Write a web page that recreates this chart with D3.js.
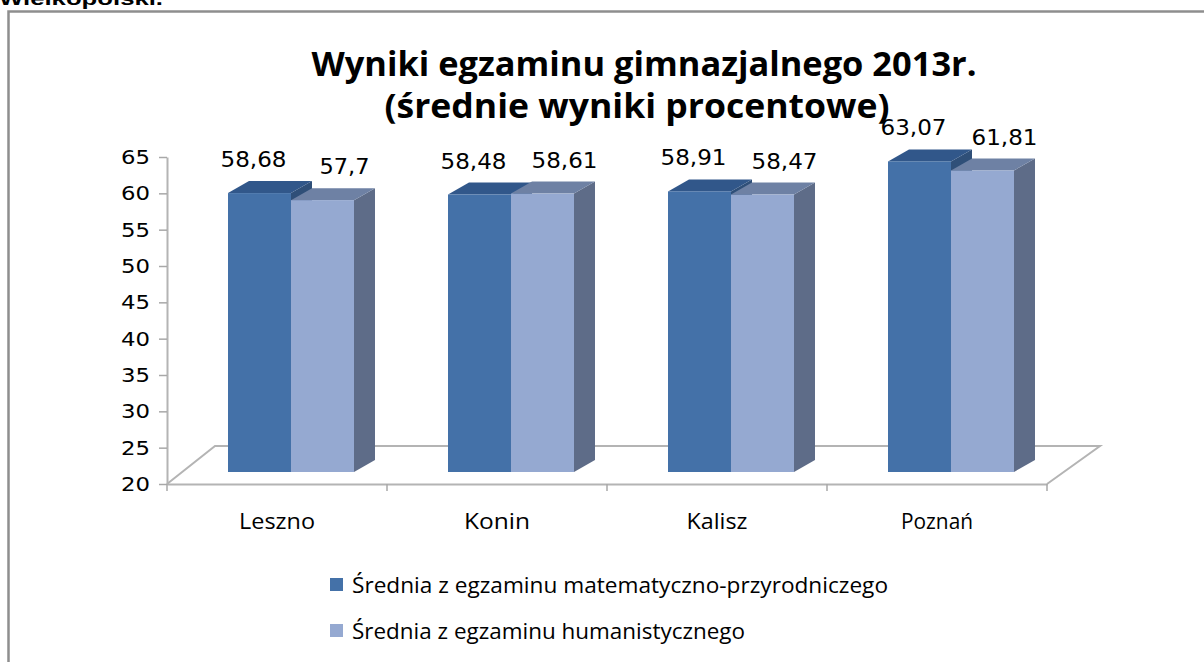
<!DOCTYPE html>
<html><head><meta charset="utf-8">
<script src="https://cdn.jsdelivr.net/npm/d3@7"></script>
<style>body{margin:0;background:#fff;overflow:hidden}svg{display:block}</style>
</head><body>
<svg id="c" width="1204" height="662"></svg>
<script>
const categories = ["Leszno", "Konin", "Kalisz", "Poznań"];
const seriesNames = ["Średnia z egzaminu matematyczno-przyrodniczego", "Średnia z egzaminu humanistycznego"];
const mathValues = [58.68, 58.48, 58.91, 63.07];
const humValues = [57.7, 58.61, 58.47, 61.81];
const valueLabels = [["58,68","58,48","58,91","63,07"],["57,7","58,61","58,47","61,81"]];
const yTicks = [20,25,30,35,40,45,50,55,60,65];
const titleLines = ["Wyniki egzaminu gimnazjalnego 2013r.", "(średnie wyniki procentowe)"];

const svg = d3.select("#c");
const colors = [
  {front:"#4471A8", top:"#31578A", side:"#2F4F78"},
  {front:"#95A9D1", top:"#6E81A4", side:"#5E6C88"}
];
const dx = 21, dy = -12;

// outer frame
svg.append("rect").attr("x",8.5).attr("y",11.5).attr("width",1220).attr("height",700)
  .attr("fill","none").attr("stroke","#8e8e8e").attr("stroke-width",2.5);
svg.append("text").attr("x",-1).attr("y",5).attr("font-family","Liberation Sans, Arial, sans-serif")
  .attr("font-weight","bold").attr("font-size",19).attr("textLength",164).attr("lengthAdjust","spacingAndGlyphs")
  .text("Wielkopolski.");

// title
const tl = [[644,76,665],[637,118,505]];
titleLines.forEach((t,i)=>{
  svg.append("text").attr("x",tl[i][0]).attr("y",tl[i][1]).attr("text-anchor","middle")
    .attr("font-family","Open Sans, Lato, sans-serif").attr("font-weight","bold").attr("font-size",34)
    .attr("textLength",tl[i][2]).attr("lengthAdjust","spacingAndGlyphs").text(t);
});

// scales
const yAxisScale = d3.scaleLinear().domain([20,65]).range([484,157]);
const yBar = d3.scaleLinear().domain([20,65]).range([472,147.5]);
const x0 = d3.scaleBand().domain(categories).range([167,1047]);
const x1 = d3.scaleBand().domain([0,1]).range([61,187]);

// floor
const floor = svg.append("g").attr("stroke","#b4b4b4").attr("stroke-width",2).attr("fill","none");
floor.append("path").attr("d",`M167,484 L215,446 L1100,446 L1047,484`);

// y axis
const gy = svg.append("g").attr("transform","translate(167,0)").call(
  d3.axisLeft(yAxisScale).tickValues(yTicks).tickSize(8).tickSizeOuter(0).tickFormat(d=>d));
gy.select(".domain").attr("stroke","#b4b4b4").attr("stroke-width",2);
gy.selectAll(".tick line").attr("stroke","#a8a8a8").attr("stroke-width",1.5);
gy.selectAll(".tick text").attr("font-family","DejaVu Sans, Verdana, sans-serif").attr("font-size",20)
  .attr("fill","#000").attr("x",-17).attr("textLength",29).attr("lengthAdjust","spacingAndGlyphs");

// x axis (front line)
const gx = svg.append("g").attr("transform","translate(0,484)").call(
  d3.axisBottom(x0).tickSize(0).tickFormat(""));
gx.select(".domain").attr("stroke","#b4b4b4").attr("stroke-width",2);
const xTickPos = d3.range(categories.length+1).map(i=>167+i*x0.bandwidth());
gx.selectAll(".xt").data(xTickPos).enter().append("line").attr("class","xt")
  .attr("x1",d=>d).attr("x2",d=>d).attr("y1",0).attr("y2",7).attr("stroke","#a8a8a8").attr("stroke-width",1.5);
const catW = [76,66,61,72];
svg.selectAll(".cat").data(categories).enter().append("text")
  .attr("x",d=>x0(d)+x0.bandwidth()/2).attr("y",529).attr("text-anchor","middle")
  .attr("font-family","Open Sans, sans-serif").attr("font-size",22)
  .attr("textLength",(d,i)=>catW[i]).attr("lengthAdjust","spacingAndGlyphs").text(d=>d);

// bars
const seriesVals = [mathValues, humValues];
const bars = svg.append("g");
categories.forEach((c,ci)=>{
  seriesVals.forEach((vals,si)=>{
    const v = vals[ci];
    const xl = x0(c)+x1(si), w = x1.bandwidth();
    const yt = yBar(v), yb = yBar(20);
    const col = colors[si];
    const g = bars.append("g");
    g.append("path").attr("fill",col.side)
      .attr("d",`M${xl+w},${yt} L${xl+w+dx},${yt+dy} L${xl+w+dx},${yb+dy} L${xl+w},${yb} Z`);
    g.append("path").attr("fill",col.top)
      .attr("d",`M${xl},${yt} L${xl+dx},${yt+dy} L${xl+w+dx},${yt+dy} L${xl+w},${yt} Z`);
    g.append("rect").attr("x",xl).attr("y",yt).attr("width",w).attr("height",yb-yt).attr("fill",col.front);
  });
});

// value labels
const labOff = [-6, 22];
seriesVals.forEach((vals,si)=>{
  svg.selectAll(".vl"+si).data(vals).enter().append("text")
    .attr("x",(d,i)=>x0(categories[i])+x1(si)+x1.bandwidth()/2+labOff[si])
    .attr("y",d=>yBar(d)-26).attr("text-anchor","middle")
    .attr("font-family","DejaVu Sans, Verdana, sans-serif").attr("font-size",21)
    .attr("textLength",(d,i)=>valueLabels[si][i].length===4?50:66).attr("lengthAdjust","spacingAndGlyphs")
    .text((d,i)=>valueLabels[si][i]);
});

// legend
const legW = [536, 393];
const lg = svg.append("g");
seriesNames.forEach((s,i)=>{
  const y = 578 + i*46;
  lg.append("rect").attr("x",330).attr("y",y).attr("width",13).attr("height",13).attr("fill",colors[i].front);
  lg.append("text").attr("x",352).attr("y",y+15).attr("font-family","Open Sans, sans-serif").attr("font-size",21)
    .attr("textLength",legW[i]).attr("lengthAdjust","spacingAndGlyphs").text(s);
});
</script>
</body></html>
